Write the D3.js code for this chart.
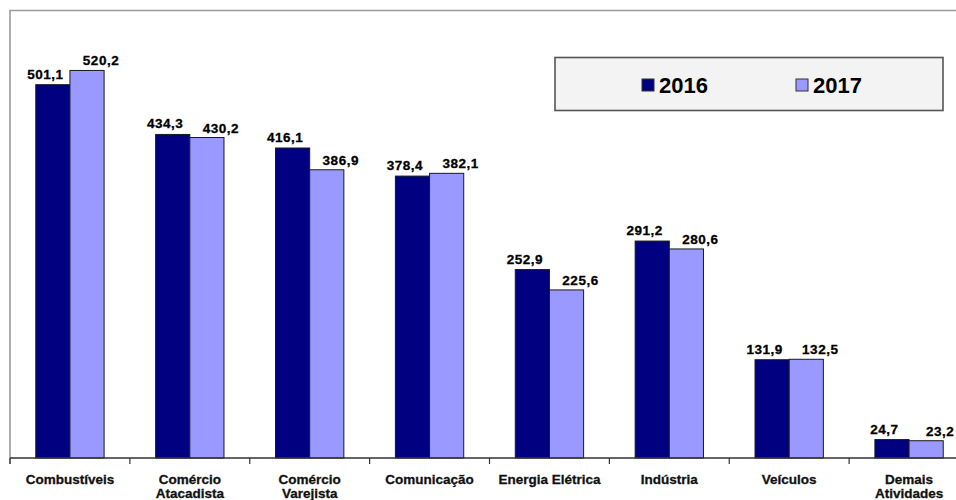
<!DOCTYPE html>
<html>
<head>
<meta charset="utf-8">
<script src="https://cdn.jsdelivr.net/npm/d3@7/dist/d3.min.js"></script>
<style>
  html, body { margin: 0; padding: 0; background: #fff; }
  svg { display: block; font-family: "Liberation Sans", Arial, sans-serif; }
</style>
</head>
<body>
<svg id="chart" width="956" height="500"></svg>
<script>
// Arrecadação por setor de atividade, 2016 x 2017
const categories = [
  ["Combustíveis"],
  ["Comércio", "Atacadista"],
  ["Comércio", "Varejista"],
  ["Comunicação"],
  ["Energia Elétrica"],
  ["Indústria"],
  ["Veículos"],
  ["Demais", "Atividades"]
];
const seriesNames = ["2016", "2017"];
const values2016 = [501.1, 434.3, 416.1, 378.4, 252.9, 291.2, 131.9, 24.7];
const values2017 = [520.2, 430.2, 386.9, 382.1, 225.6, 280.6, 132.5, 23.2];
const colors = ["#000080", "#9999ff"];

const fmt = v => d3.format(".1f")(v).replace(".", ",");

const svg = d3.select("#chart");
const plot = { left: 10, top: 11, bottom: 458, right: 969 };

const keys = categories.map((c, i) => i);
const x = d3.scaleBand()
  .domain(keys)
  .range([plot.left, plot.right])
  .paddingInner(0.43)
  .paddingOuter(0.215);
const xs = d3.scaleBand().domain([0, 1]).range([0, x.bandwidth()]);
const y = d3.scaleLinear().domain([0, 600]).range([plot.bottom, plot.top]);

// Plot-area frame (top and left edges)
svg.append("path")
  .attr("d", `M${plot.left},${plot.bottom + 6} V${plot.top - 0.5} H${plot.right}`)
  .attr("fill", "none")
  .attr("stroke", "#9a9a9a")
  .attr("stroke-width", 1.6);

// Bars
const series = [values2016, values2017];
series.forEach((vals, s) => {
  svg.append("g").selectAll("rect")
    .data(vals)
    .join("rect")
    .attr("x", (d, i) => x(i) + xs(s))
    .attr("y", d => y(d))
    .attr("width", xs.bandwidth())
    .attr("height", d => y(0) - y(d))
    .attr("fill", colors[s])
    .attr("stroke", "#1a1a1a")
    .attr("stroke-width", 1);
});

// Value labels
const labelShift = [{ dx: -7.5, dy: -6 }, { dx: 14, dy: -5 }];
series.forEach((vals, s) => {
  svg.append("g").selectAll("text")
    .data(vals)
    .join("text")
    .attr("x", (d, i) => x(i) + xs(s) + xs.bandwidth() / 2 + labelShift[s].dx)
    .attr("y", d => y(d) + labelShift[s].dy)
    .attr("text-anchor", "middle")
    .attr("font-size", 13.5)
    .attr("font-weight", "bold")
    .attr("letter-spacing", 0.5)
    .attr("fill", "#000")
    .attr("stroke", "#000")
    .attr("stroke-width", 0.3)
    .text(d => fmt(d));
});

// Category axis: baseline, ticks on band boundaries, two-line labels
const axis = svg.append("g");
axis.append("line")
  .attr("x1", plot.left).attr("x2", plot.right)
  .attr("y1", plot.bottom).attr("y2", plot.bottom)
  .attr("stroke", "#333").attr("stroke-width", 1.5);
axis.selectAll("line.tick")
  .data(keys)
  .join("line")
  .attr("class", "tick")
  .attr("x1", i => x(i) - x.step() * x.paddingOuter())
  .attr("x2", i => x(i) - x.step() * x.paddingOuter())
  .attr("y1", plot.bottom).attr("y2", plot.bottom + 6)
  .attr("stroke", "#333").attr("stroke-width", 1.2);
axis.selectAll("text")
  .data(keys)
  .join("text")
  .attr("x", i => x(i) + x.bandwidth() / 2)
  .attr("y", 483.5)
  .attr("text-anchor", "middle")
  .attr("font-size", 13.5)
  .attr("font-weight", "bold")
  .attr("fill", "#111")
  .attr("stroke", "#111")
  .attr("stroke-width", 0.3)
  .each(function (i) {
    const t = d3.select(this);
    categories[i].forEach((line, k) => {
      t.append("tspan")
        .attr("x", x(i) + x.bandwidth() / 2)
        .attr("dy", k === 0 ? 0 : 14.5)
        .text(line);
    });
  });

// Legend
const legend = svg.append("g");
legend.append("rect")
  .attr("x", 555).attr("y", 57.5)
  .attr("width", 388).attr("height", 53)
  .attr("fill", "#f3f3f3")
  .attr("stroke", "#555")
  .attr("stroke-width", 1.6);
const legendX = [642, 796];
seriesNames.forEach((name, s) => {
  legend.append("rect")
    .attr("x", legendX[s]).attr("y", 79)
    .attr("width", 12).attr("height", 12)
    .attr("fill", colors[s])
    .attr("stroke", "#333").attr("stroke-width", 1);
  legend.append("text")
    .attr("x", legendX[s] + 17).attr("y", 93)
    .attr("font-size", 22)
    .attr("font-weight", "bold")
    .attr("fill", "#000")
    .text(name);
});
</script>
</body>
</html>
